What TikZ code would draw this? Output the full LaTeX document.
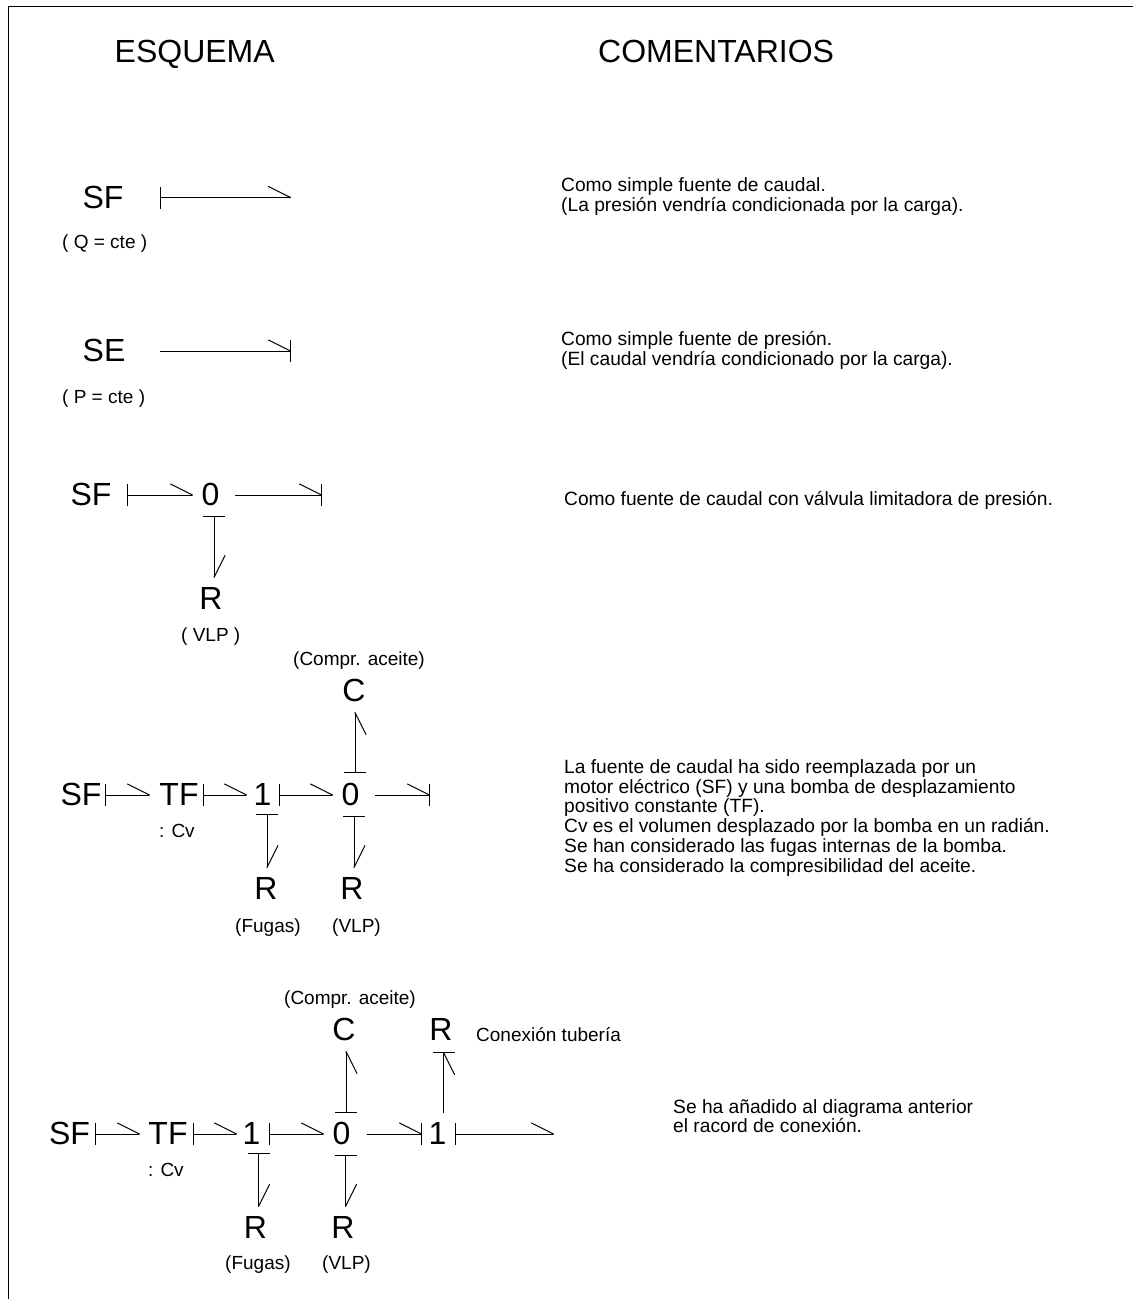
\documentclass[tikz,border=0pt]{standalone}
\usepackage{fontspec}
\setmainfont{Liberation Sans}
\usetikzlibrary{arrows.meta}
\tikzset{
  x=1pt,y=-1pt,
  el/.style={inner sep=0pt,outer sep=0pt,text height=21pt,text depth=0pt,font=\fontsize{32}{32}\selectfont},
  head/.style={inner sep=0pt,anchor=base west,font=\fontsize{32}{32}\selectfont},
  small/.style={inner sep=0pt,anchor=base west,font=\fontsize{19}{19}\selectfont},
  cmt/.style={inner sep=0pt,anchor=base west,font=\fontsize{19.2}{19.2}\selectfont},
  bond/.style={line width=1pt},
  startbar/.style={bond,{Bar[width=22pt,line width=1pt]}-{Straight Barb[harpoon,length=22pt,width=22pt,line width=1pt,round]}},
  endbar/.style={bond,-{Straight Barb[harpoon,length=22pt,width=22pt,line width=1pt,round,sep=-1pt]Bar[width=22pt,line width=1pt]}},
  startbarup/.style={bond,{Bar[width=22pt,line width=1pt]}-{Straight Barb[harpoon,swap,length=22pt,width=22pt,line width=1pt,round]}},
  endbarup/.style={bond,-{Straight Barb[harpoon,swap,length=22pt,width=22pt,line width=1pt,round,sep=-1pt]Bar[width=22pt,line width=1pt]}},
}
\begin{document}
\begin{tikzpicture}
\useasboundingbox (0,0) rectangle (1133,1299);
\coordinate (fa) at (8,1299);
\coordinate (fb) at (8,6);
\coordinate (fc) at (1133,6);
\draw[line width=1pt] (fa) -- (fb) -- (fc);

\node[head] (hesq) at (114.5,62.5) {ESQUEMA};
\node[head] (hcom) at (598,62) {COMENTARIOS};

% row 1
\node[el] (sfa) at (103,197.5) {SF};
\coordinate (ea) at (291,197.5);
\node[small] (qa) at (62,248) {( Q = cte )};
\draw[startbar] ([xshift=57pt]sfa.center) -- (ea);
\node[cmt] (ca1) at (561,191) {Como simple fuente de caudal.};
\node[cmt] (ca2) at (561,211) {(La presión vendría condicionada por la carga).};

% row 2
\node[el] (seb) at (104,351) {SE};
\coordinate (eb) at (291,351);
\node[small] (qb) at (62,403) {( P = cte )};
\draw[endbar] ([xshift=56pt]seb.center) -- (eb);
\node[cmt] (cb1) at (561,345) {Como simple fuente de presión.};
\node[cmt] (cb2) at (561,365) {(El caudal vendría condicionado por la carga).};

% row 3
\node[el] (sfc) at (91,495) {SF};
\node[el] (zc) at (210.6,495) {0};
\node[el] (rc) at (211,598.5) {R};
\coordinate (ec) at (322,495);
\node[small] (vc) at (181,641) {( VLP )};
\draw[startbar] ([xshift=36pt]sfc.center) -- ([xshift=-17.6pt]zc.center);
\draw[endbar] ([xshift=24.4pt]zc.center) -- (ec);
\draw[startbar] ([xshift=3.4pt,yshift=-21pt]zc.center) -- ([xshift=3pt,yshift=20.5pt]rc.center);
\node[cmt] (cc1) at (564,505) {Como fuente de caudal con válvula limitadora de presión.};

% row 4
\node[small] (lcd) at (293,665) {(Compr. aceite)};
\node[el] (cd) at (354,690.5) {C};
\node[el] (sfd) at (81,795) {SF};
\node[el] (tfd) at (179,795) {TF};
\node[el] (od) at (262.4,795) {1};
\node[el] (zd) at (350.6,795) {0};
\coordinate (ed) at (430,795);
\node[el] (rda) at (266,888.5) {R};
\node[el] (rdb) at (352,888.5) {R};
\node[small] (cvd) at (159,837) {: Cv};
\node[small] (fd) at (235,932) {(Fugas)};
\node[small] (vd) at (332,932) {(VLP)};
\draw[startbar] ([xshift=24pt]sfd.center) -- ([xshift=-29pt]tfd.center);
\draw[startbar] ([xshift=24pt]tfd.center) -- ([xshift=-15.4pt]od.center);
\draw[startbar] ([xshift=16.6pt]od.center) -- ([xshift=-17.6pt]zd.center);
\draw[endbar] ([xshift=24.4pt]zd.center) -- (ed);
\draw[startbar] ([xshift=4.6pt,yshift=-19pt]od.center) -- ([xshift=1pt,yshift=20.5pt]rda.center);
\draw[startbar] ([xshift=3.4pt,yshift=-21pt]zd.center) -- ([xshift=2pt,yshift=20.5pt]rdb.center);
\draw[startbarup] ([xshift=4.4pt,yshift=22pt]zd.center) -- ([xshift=1pt,yshift=-21.5pt]cd.center);
\node[cmt] (cd1) at (564,773) {La fuente de caudal ha sido reemplazada por un};
\node[cmt] (cd2) at (564,793) {motor eléctrico (SF) y una bomba de desplazamiento};
\node[cmt] (cd3) at (564,812.5) {positivo constante (TF).};
\node[cmt] (cd4) at (564,832) {Cv es el volumen desplazado por la bomba en un radián.};
\node[cmt] (cd5) at (564,852) {Se han considerado las fugas internas de la bomba.};
\node[cmt] (cd6) at (564,872) {Se ha considerado la compresibilidad del aceite.};

% row 5
\node[small] (lce) at (284,1004) {(Compr. aceite)};
\node[el] (ce) at (344,1029.5) {C};
\node[el] (rt) at (441,1029.5) {R};
\node[small] (ct) at (476,1041) {Conexión tubería};
\node[el] (sfe) at (69.5,1134) {SF};
\node[el] (tfe) at (168,1134) {TF};
\node[el] (oe) at (251.4,1134) {1};
\node[el] (ze) at (341.6,1134) {0};
\node[el] (of) at (437.4,1134) {1};
\coordinate (ee) at (554,1134);
\node[el] (rea) at (255.5,1227.5) {R};
\node[el] (reb) at (343,1227.5) {R};
\node[small] (cve) at (148,1176) {: Cv};
\node[small] (fe) at (225,1269) {(Fugas)};
\node[small] (ve) at (322,1269) {(VLP)};
\draw[startbar] ([xshift=25.5pt]sfe.center) -- ([xshift=-28pt]tfe.center);
\draw[startbar] ([xshift=25pt]tfe.center) -- ([xshift=-14.4pt]oe.center);
\draw[startbar] ([xshift=17.1pt]oe.center) -- ([xshift=-17.6pt]ze.center);
\draw[endbar] ([xshift=24.9pt]ze.center) -- ([xshift=-15.4pt]of.center);
\draw[startbar] ([xshift=17.6pt]of.center) -- (ee);
\draw[startbar] ([xshift=7.1pt,yshift=-19pt]oe.center) -- ([xshift=3pt,yshift=20.5pt]rea.center);
\draw[startbar] ([xshift=3.9pt,yshift=-21pt]ze.center) -- ([xshift=2.5pt,yshift=20.5pt]reb.center);
\draw[startbarup] ([xshift=4.4pt,yshift=21pt]ze.center) -- ([xshift=2pt,yshift=-21.5pt]ce.center);
\draw[endbarup] ([xshift=6.1pt,yshift=21pt]of.center) -- ([xshift=2.5pt,yshift=-22.5pt]rt.center);
\node[cmt] (ce1) at (673,1113) {Se ha añadido al diagrama anterior};
\node[cmt] (ce2) at (673,1132) {el racord de conexión.};
\end{tikzpicture}
\end{document}
